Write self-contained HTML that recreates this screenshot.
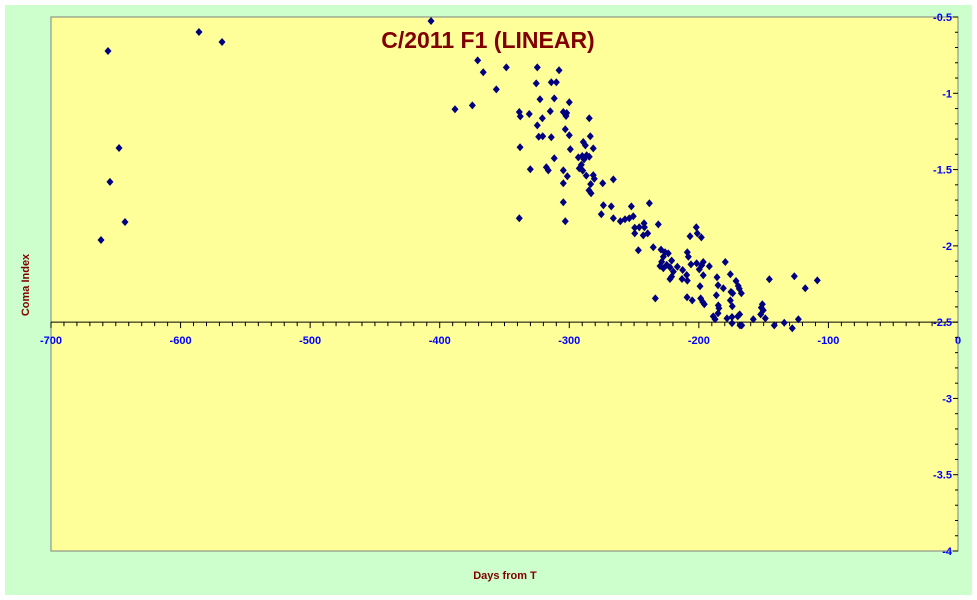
<!DOCTYPE html>
<html><head><meta charset="utf-8"><style>
html,body{margin:0;padding:0;background:#fff;}
svg{display:block;font-family:"Liberation Sans",Arial,sans-serif;}
</style></head><body>
<svg id="chart" width="977" height="600" viewBox="0 0 977 600" xmlns="http://www.w3.org/2000/svg">
<rect x="5" y="5" width="967" height="590" fill="#CCFFCC"/>
<rect x="51" y="17" width="907" height="534" fill="#FFFF99" stroke="#808080" stroke-width="1"/>
<text x="488" y="48" text-anchor="middle" font-size="23" font-weight="bold" fill="#800000">C/2011 F1 (LINEAR)</text>
<text transform="translate(29,285) rotate(-90)" text-anchor="middle" font-size="11" font-weight="bold" fill="#800000">Coma Index</text>
<text x="505" y="579" text-anchor="middle" font-size="11" font-weight="bold" fill="#800000">Days from T</text>
<g id="axes"></g>
<g id="points"></g>
</svg>
<script>
const days = [-661.4,-656.0,-654.5,-647.5,-642.9,-585.8,-568.0,-406.7,-370.7,-366.4,-348.6,-324.7,-307.9,-325.5,-313.9,-310,-356.3,-388.2,-374.8,-322.6,-311.6,-300,-338.6,-337.8,-330.9,-314.7,-320.8,-304.6,-302,-302.5,-284.6,-324.7,-303.1,-323.6,-320.5,-313.9,-300,-283.8,-289.2,-287.6,-281.5,-338,-299.2,-311.6,-293,-290,-286.6,-284.6,-288.6,-330.1,-317.7,-316.2,-304.6,-292.3,-290.7,-289.6,-301.5,-286.9,-281.5,-280.7,-304.6,-283.5,-274.2,-266,-284.8,-283.2,-304.6,-273.7,-267.6,-252.1,-275.3,-266,-260.6,-257,-253.7,-250.6,-338.6,-303.1,-249.5,-249.5,-238.2,-246,-242.3,-242,-242.9,-239.5,-231.3,-246.7,-235.2,-229.2,-226.1,-223.6,-227.4,-221,-228.7,-230,-227.4,-224.8,-222.3,-216.6,-219.7,-221,-222.3,-212.5,-213,-209.4,-208.9,-208.9,-208.1,-206.8,-202,-201.2,-198.1,-206.1,-201.7,-196.6,-197.8,-199.7,-191.9,-196.6,-199.1,-179.6,-186,-185.2,-181.1,-175.7,-186.5,-171.3,-169.6,-168.8,-175.2,-173.9,-167.2,-233.6,-209.1,-205.1,-198.6,-197,-195.8,-175.7,-185,-184.5,-174.2,-185.2,-188.9,-187.5,-178.3,-174.4,-174.4,-170,-168.5,-168.2,-166.9,-158,-151,-151.8,-150.3,-152.3,-148.7,-145.6,-141.8,-134.1,-127.9,-126.3,-123.2,-117.9,-108.6];
const comaIndex = [-1.962,-0.723,-1.581,-1.359,-1.844,-0.598,-0.664,-0.526,-0.784,-0.862,-0.830,-0.830,-0.849,-0.935,-0.928,-0.928,-0.974,-1.105,-1.079,-1.039,-1.033,-1.059,-1.123,-1.151,-1.136,-1.118,-1.164,-1.123,-1.129,-1.149,-1.164,-1.210,-1.236,-1.285,-1.282,-1.288,-1.275,-1.282,-1.319,-1.341,-1.361,-1.354,-1.367,-1.426,-1.420,-1.411,-1.406,-1.416,-1.433,-1.498,-1.485,-1.505,-1.505,-1.492,-1.468,-1.507,-1.544,-1.540,-1.536,-1.560,-1.590,-1.595,-1.590,-1.564,-1.636,-1.655,-1.714,-1.734,-1.741,-1.741,-1.793,-1.819,-1.839,-1.826,-1.819,-1.806,-1.819,-1.839,-1.881,-1.918,-1.721,-1.878,-1.852,-1.878,-1.931,-1.918,-1.859,-2.029,-2.009,-2.025,-2.042,-2.049,-2.071,-2.097,-2.104,-2.132,-2.147,-2.125,-2.140,-2.137,-2.169,-2.202,-2.217,-2.158,-2.217,-2.191,-2.228,-2.042,-2.071,-1.937,-1.878,-1.918,-1.944,-2.121,-2.114,-2.106,-2.127,-2.154,-2.134,-2.193,-2.265,-2.106,-2.206,-2.258,-2.278,-2.186,-2.324,-2.230,-2.263,-2.281,-2.302,-2.311,-2.311,-2.344,-2.337,-2.357,-2.344,-2.368,-2.383,-2.357,-2.390,-2.409,-2.396,-2.442,-2.462,-2.481,-2.475,-2.466,-2.507,-2.462,-2.449,-2.521,-2.521,-2.481,-2.383,-2.405,-2.422,-2.449,-2.475,-2.219,-2.521,-2.504,-2.540,-2.199,-2.481,-2.278,-2.226];
const xTicks = [-700,-600,-500,-400,-300,-200,-100,0];
const xTickLabels = ["-700","-600","-500","-400","-300","-200","-100","0"];
const yTicks = [-0.5,-1,-1.5,-2,-2.5,-3,-3.5,-4];
const yTickLabels = ["-0.5","-1","-1.5","-2","-2.5","-3","-3.5","-4"];

const NS = "http://www.w3.org/2000/svg";
const X0 = 51, X1 = 958, Y0 = 17, Y1 = 551;
const xMin = -700, xMax = 0, yMax = -0.5, yMin = -4;
function xs(v){ return X0 + (v - xMin) / (xMax - xMin) * (X1 - X0); }
function ys(v){ return Y0 + (yMax - v) / (yMax - yMin) * (Y1 - Y0); }
function mk(tag, attrs){ const e = document.createElementNS(NS, tag); for (const k in attrs) e.setAttribute(k, attrs[k]); return e; }

const axes = document.getElementById('axes');
const axisY = ys(-2.5);
const xl = mk('line', {x1:X0, x2:X1, y1:axisY, y2:axisY, stroke:'#000', 'stroke-width':1});


axes.appendChild(xl);
for (let v = xMin; v <= xMax; v += 10) {
  const major = (v % 100 === 0);
  const t = mk('line', {x1:xs(v), x2:xs(v), y1:axisY, y2:axisY + (major ? 6 : 4), stroke:'#000', 'stroke-width':1});
  
  
  axes.appendChild(t);
}
xTicks.forEach((v, i) => {
  const t = mk('text', {x:xs(v), y:axisY + 22, 'text-anchor':'middle', 'font-size':11, 'font-weight':'bold', fill:'#0000FF'});
  t.textContent = xTickLabels[i];
  
  
  axes.appendChild(t);
});
const yl = mk('line', {x1:X1, x2:X1, y1:Y0, y2:Y1, stroke:'#808080', 'stroke-width':1});


axes.appendChild(yl);
for (let k = 0; k <= 35; k++) {
  const v = yMax - k * 0.1;
  const major = (k % 5 === 0);
  const t = mk('line', {x1:X1 - (major ? 5 : 3), x2:X1, y1:ys(v), y2:ys(v), stroke:'#000', 'stroke-width':1});
  
  
  axes.appendChild(t);
}
yTicks.forEach((v, i) => {
  const t = mk('text', {x:X1 - 6, y:ys(v) + 4, 'text-anchor':'end', 'font-size':11, 'font-weight':'bold', fill:'#0000FF'});
  t.textContent = yTickLabels[i];
  
  
  axes.appendChild(t);
});

const pts = document.getElementById('points');
days.forEach((d, i) => {
  const cx = xs(d), cy = ys(comaIndex[i]);
  const p = mk('polygon', {points: `${cx},${cy-4} ${cx+3.5},${cy} ${cx},${cy+4} ${cx-3.5},${cy}`, fill:'#000080'});
  
  
  pts.appendChild(p);
});
</script>
</body></html>
